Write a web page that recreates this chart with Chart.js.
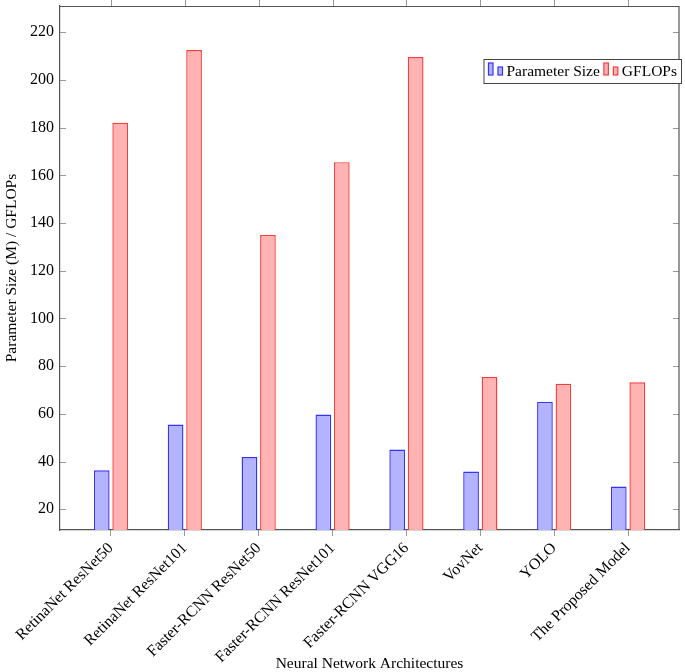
<!DOCTYPE html>
<html>
<head>
<meta charset="utf-8">
<title>Parameter Size / GFLOPs</title>
<script src="https://cdn.jsdelivr.net/npm/chart.js@4"></script>
<style>
    html, body { margin: 0; padding: 0; background: #fff; }
    #wrap { position: relative; width: 685px; height: 672px; }
</style>
</head>
<body>
<div id="wrap"><canvas id="chart"></canvas></div>
<script>
// values
const categories = [
    'RetinaNet ResNet50',
    'RetinaNet ResNet101',
    'Faster-RCNN ResNet50',
    'Faster-RCNN ResNet101',
    'Faster-RCNN VGG16',
    'VovNet',
    'YOLO',
    'The Proposed Model'
];
const paramSize = [36.3, 55.5, 41.9, 59.7, 45.0, 35.8, 65.0, 29.5];
const gflops = [182.1, 212.5, 135.0, 165.5, 209.6, 75.4, 72.6, 73.2];
const yTicks = [20, 40, 60, 80, 100, 120, 140, 160, 180, 200, 220];

const FONT = "'Liberation Serif', 'Times New Roman', serif";
const AXIS_COLOR = '#555';
const TICK_COLOR = '#999';

// box, top/right ticks and inner legend (pgfplots style)
const framePlugin = {
    id: 'frame',
    afterDatasetsDraw(chart) {
        const { ctx, chartArea: a, scales } = chart;
        ctx.save();
        ctx.lineWidth = 1;
        ctx.strokeStyle = TICK_COLOR;
        ctx.beginPath();
        scales.x.ticks.forEach(t => {
            const px = Math.round(scales.x.getPixelForValue(t.value)) + 0.5;
            ctx.moveTo(px, a.top - 6);
            ctx.lineTo(px, a.top);
        });
        scales.y.ticks.forEach(t => {
            const py = Math.round(scales.y.getPixelForValue(t.value)) + 0.5;
            ctx.moveTo(a.left, py);
            ctx.lineTo(a.left + 6, py);
            ctx.moveTo(a.right - 6, py);
            ctx.lineTo(a.right, py);
        });
        ctx.stroke();

        ctx.strokeStyle = AXIS_COLOR;
        ctx.lineWidth = 1.2;
        ctx.beginPath();
        ctx.moveTo(a.left, a.top + 0.5);
        ctx.lineTo(a.right, a.top + 0.5);
        ctx.lineTo(a.right, a.bottom);
        ctx.stroke();

        // legend
        ctx.font = '15.5px ' + FONT;
        ctx.textBaseline = 'middle';
        const entries = chart.data.datasets.map(ds => ({
            label: ds.label,
            fill: ds.backgroundColor,
            line: ds.borderColor,
            w: ctx.measureText(ds.label).width
        }));
        let width = 5;
        entries.forEach(e => { width += 18 + e.w + 4; });
        const boxH = 24;
        const boxRight = a.right + 2;
        const boxLeft = boxRight - width;
        const boxTop = a.top + 53;
        ctx.fillStyle = '#fff';
        ctx.fillRect(boxLeft, boxTop, width, boxH);
        ctx.strokeStyle = '#444';
        ctx.lineWidth = 1;
        ctx.strokeRect(boxLeft + 0.5, boxTop + 0.5, width, boxH);

        let x = boxLeft + 5;
        const base = boxTop + 16;
        entries.forEach(e => {
            ctx.fillStyle = e.fill;
            ctx.strokeStyle = e.line;
            ctx.lineWidth = 1.2;
            ctx.fillRect(x, base - 12, 4.5, 12);
            ctx.strokeRect(x, base - 12, 4.5, 12);
            ctx.fillRect(x + 9.5, base - 8, 4.5, 8);
            ctx.strokeRect(x + 9.5, base - 8, 4.5, 8);
            ctx.fillStyle = '#000';
            ctx.fillText(e.label, x + 18, boxTop + boxH / 2 + 1);
            x += 18 + e.w + 4;
        });
        ctx.restore();
    }
};

const toPoints = values => values.map((v, i) => ({ x: i, y: v }));

new Chart(document.getElementById('chart'), {
    type: 'bar',
    data: {
        datasets: [{
            label: 'Parameter Size',
            data: toPoints(paramSize),
            backgroundColor: '#b3b3ff',
            borderColor: '#3333ff',
            borderWidth: 1.4,
            borderSkipped: false,
            categoryPercentage: 0.5,
            barPercentage: 0.85
        }, {
            label: 'GFLOPs',
            data: toPoints(gflops),
            backgroundColor: '#ffb3b3',
            borderColor: '#ff3a3a',
            borderWidth: 1.4,
            borderSkipped: false,
            categoryPercentage: 0.5,
            barPercentage: 0.85
        }]
    },
    options: {
        responsive: true,
        maintainAspectRatio: false,
        animation: false,
        devicePixelRatio: 1,
        layout: { padding: { top: 6, right: 6, left: 0, bottom: 0 } },
        plugins: {
            legend: { display: false },
            tooltip: { enabled: false }
        },
        scales: {
            x: {
                type: 'linear',
                min: -0.69,
                max: categories.length - 1 + 0.69,
                offset: false,
                afterFit: scale => {
                    scale.height = 142;
                    scale.paddingLeft = 0;
                    scale.paddingRight = 0;
                },
                grid: {
                    offset: false,
                    drawOnChartArea: false,
                    drawTicks: true,
                    tickLength: 6,
                    color: TICK_COLOR
                },
                border: { display: true, color: AXIS_COLOR, width: 1.2 },
                ticks: {
                    stepSize: 1,
                    includeBounds: false,
                    autoSkip: false,
                    minRotation: 45,
                    maxRotation: 45,
                    padding: 3,
                    color: '#000',
                    font: { family: FONT, size: 15.8 },
                    callback: value => categories[value] ?? ''
                },
                title: {
                    display: true,
                    text: 'Neural Network Architectures',
                    color: '#000',
                    font: { family: FONT, size: 15.5 },
                    padding: { top: 0, bottom: -1 }
                }
            },
            y: {
                min: 11.3,
                max: 231,
                afterFit: scale => {
                    scale.width = 60;
                    scale.paddingTop = 0;
                    scale.paddingBottom = 0;
                },
                afterBuildTicks: scale => {
                    scale.ticks = yTicks.map(v => ({ value: v }));
                },
                grid: { drawOnChartArea: false, drawTicks: false },
                border: { display: true, color: AXIS_COLOR, width: 1.2 },
                ticks: {
                    padding: 6,
                    color: '#000',
                    font: { family: FONT, size: 16 }
                },
                title: {
                    display: true,
                    text: 'Parameter Size (M) / GFLOPs',
                    color: '#000',
                    font: { family: FONT, size: 15.5 },
                    padding: { top: 3, bottom: 0 }
                }
            }
        }
    },
    plugins: [framePlugin]
});
</script>
</body>
</html>
